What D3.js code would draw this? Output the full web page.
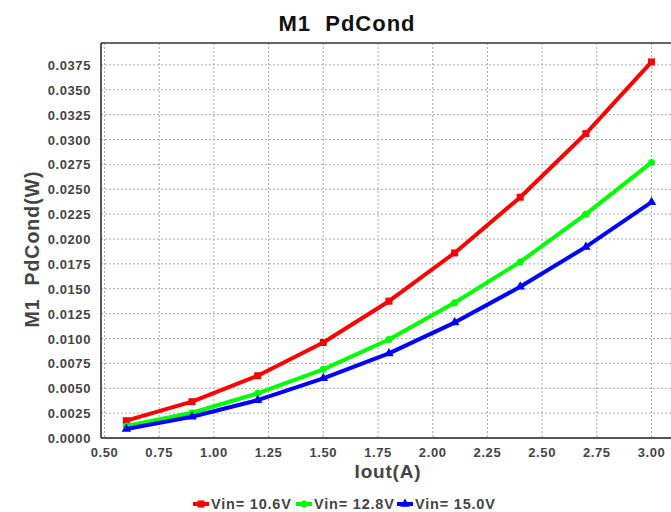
<!DOCTYPE html>
<html>
<head>
<meta charset="utf-8">
<script src="https://cdn.jsdelivr.net/npm/d3@7"></script>
<style>
  body { margin: 0; background: #fff; }
  text { font-family: "Liberation Sans", Arial, sans-serif; white-space: pre; }
</style>
</head>
<body>
<svg id="chart" width="671" height="512"></svg>
<script>
const iout = [0.6, 0.9, 1.2, 1.5, 1.8, 2.1, 2.4, 2.7, 3.0];
const vin106 = [0.00174, 0.00365, 0.00626, 0.0096, 0.01375, 0.0186, 0.0242, 0.0306, 0.0378];
const vin128 = [0.0012, 0.00254, 0.00449, 0.0069, 0.0099, 0.0136, 0.0177, 0.0225, 0.0277];
const vin150 = [0.0009, 0.00214, 0.0038, 0.006, 0.0085, 0.0116, 0.0152, 0.0192, 0.0237];
const xTicks = [0.5, 0.75, 1.0, 1.25, 1.5, 1.75, 2.0, 2.25, 2.5, 2.75, 3.0];
const yTicks = d3.range(0, 16).map(i => i * 0.0025);

const series = [
  { name: 'Vin= 10.6V', color: '#ff0000', values: vin106, marker: 'square' },
  { name: 'Vin= 12.8V', color: '#00ff00', values: vin128, marker: 'circle' },
  { name: 'Vin= 15.0V', color: '#0000ff', values: vin150, marker: 'triangle' }
];

const svg = d3.select('#chart');
const plotLeft = 101, plotRight = 671, plotTop = 43, plotBottom = 438;

const x = d3.scaleLinear().domain([0.484, 3.089]).range([plotLeft, plotRight]);
const y = d3.scaleLinear().domain([0, 0.0397]).range([plotBottom, plotTop]);

// grid
svg.append('g').selectAll('line').data(xTicks).join('line')
  .attr('x1', d => x(d)).attr('x2', d => x(d))
  .attr('y1', plotTop).attr('y2', plotBottom)
  .attr('stroke', '#aaa').attr('stroke-dasharray', '2,2');
svg.append('g').selectAll('line').data(yTicks).join('line')
  .attr('x1', plotLeft).attr('x2', plotRight)
  .attr('y1', d => y(d)).attr('y2', d => y(d))
  .attr('stroke', '#aaa').attr('stroke-dasharray', '2,2');

// frame
svg.append('line').attr('x1', plotLeft).attr('x2', plotRight).attr('y1', plotTop).attr('y2', plotTop)
  .attr('stroke', '#333').attr('stroke-width', 1.5);
svg.append('line').attr('x1', plotLeft).attr('x2', plotLeft).attr('y1', plotTop).attr('y2', plotBottom)
  .attr('stroke', '#222').attr('stroke-width', 1.5);
svg.append('line').attr('x1', plotLeft).attr('x2', plotRight).attr('y1', plotBottom).attr('y2', plotBottom)
  .attr('stroke', '#222').attr('stroke-width', 1.5);

// tick labels
svg.append('g').selectAll('text').data(xTicks).join('text')
  .attr('x', d => x(d)).attr('y', plotBottom + 19)
  .attr('text-anchor', 'middle')
  .attr('font-size', 13).attr('font-weight', 'bold').attr('fill', '#444')
  .attr('letter-spacing', 0.6)
  .text(d => d3.format('.2f')(d));
svg.append('g').selectAll('text').data(yTicks).join('text')
  .attr('x', plotLeft - 10).attr('y', d => y(d) + 5)
  .attr('text-anchor', 'end')
  .attr('font-size', 13).attr('font-weight', 'bold').attr('fill', '#444')
  .attr('letter-spacing', 0.6)
  .text(d => d3.format('.4f')(d));

// titles
svg.append('text').attr('x', 347).attr('y', 31).attr('text-anchor', 'middle')
  .attr('font-size', 22).attr('font-weight', 'bold').attr('fill', '#111')
  .attr('letter-spacing', 1)
  .text('M1  PdCond');
svg.append('text').attr('x', 388).attr('y', 478).attr('text-anchor', 'middle')
  .attr('font-size', 19).attr('font-weight', 'bold').attr('fill', '#444')
  .attr('letter-spacing', 0.8)
  .text('Iout(A)');
svg.append('text').attr('transform', 'translate(39,249) rotate(-90)').attr('text-anchor', 'middle')
  .attr('font-size', 19.5).attr('font-weight', 'bold').attr('fill', '#444')
  .attr('letter-spacing', 1)
  .text('M1  PdCond(W)');

const line = d3.line().x(d => x(d[0])).y(d => y(d[1]));

const drawMarker = (g, type, color, size) => {
  if (type === 'square') {
    g.append('rect').attr('x', -size / 2).attr('y', -size / 2).attr('width', size).attr('height', size).attr('fill', color);
  } else if (type === 'circle') {
    g.append('circle').attr('r', size / 2).attr('fill', color);
  } else {
    g.append('path').attr('d', d3.symbol(d3.symbolTriangle, size * size * 0.8)()).attr('fill', color);
  }
};

series.forEach(s => {
  const pts = iout.map((v, i) => [v, s.values[i]]);
  svg.append('path').datum(pts)
    .attr('d', line).attr('fill', 'none')
    .attr('stroke', s.color).attr('stroke-width', 4).attr('stroke-linejoin', 'round');
  pts.forEach(p => {
    const g = svg.append('g').attr('transform', `translate(${x(p[0])},${y(p[1])})`);
    drawMarker(g, s.marker, s.color, 7);
  });
});

// legend
const legendX = [193, 296, 397];
series.forEach((s, i) => {
  const g = svg.append('g').attr('transform', `translate(${legendX[i]},504)`);
  g.append('line').attr('x1', 0).attr('x2', 16).attr('y1', 0).attr('y2', 0)
    .attr('stroke', s.color).attr('stroke-width', 4);
  const m = g.append('g').attr('transform', 'translate(8,0)');
  drawMarker(m, s.marker, s.color, 7);
  g.append('text').attr('x', 18).attr('y', 5)
    .attr('font-size', 14.5).attr('font-weight', 'bold').attr('fill', '#444')
    .attr('letter-spacing', 0.8)
    .text(s.name);
});
</script>
</body>
</html>
